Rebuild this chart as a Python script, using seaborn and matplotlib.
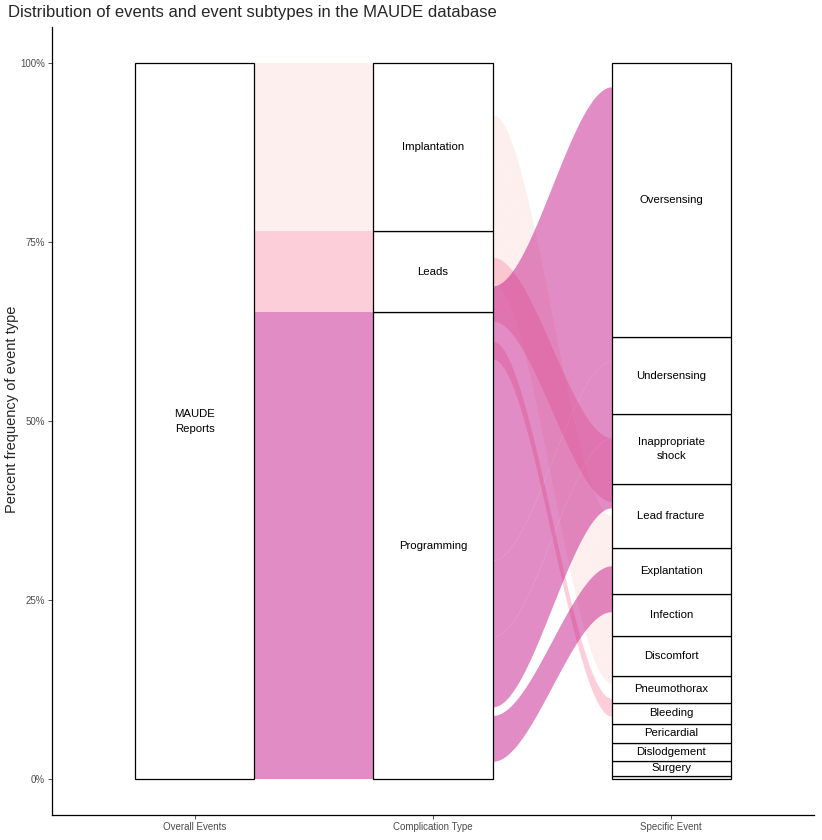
import numpy as np
import pandas as pd
import seaborn as sns
import matplotlib.pyplot as plt
from matplotlib.patches import Rectangle

# axes of the alluvial plot
axis_names = ["Overall Events", "Complication Type", "Specific Event"]

# complication types, bottom to top, RdPu fills
types = ["Programming", "Leads", "Implantation"]
type_colors = ["#C51B8A", "#FA9FB5", "#FDE0DD"]

# specific events, bottom to top (percent of reports)
events = ["Other", "Surgery", "Dislodgement", "Pericardial", "Bleeding", "Pneumothorax",
          "Discomfort", "Infection", "Explantation", "Lead fracture",
          "Inappropriate\nshock", "Undersensing", "Oversensing"]
event_pct = [0.46, 2.1, 2.5, 2.65, 3.0, 3.7, 5.6, 5.9, 6.4, 8.9, 9.8, 10.7, 38.3]
event_type = ["Implantation", "Implantation", "Leads", "Implantation", "Implantation",
              "Implantation", "Implantation", "Implantation", "Programming", "Leads",
              "Programming", "Programming", "Programming"]
event_show = [False] + [True] * 12

# where each flow sits between Complication Type and Specific Event
flow_mid_bottom = [69.4, 69.86, 58.7, 71.96, 74.61, 77.61, 81.31, 86.91, 2.5, 64.0, 10.1, 19.9, 30.6]
flow_end_bottom = [13.4, 13.86, 8.8, 15.96, 18.61, 21.61, 25.31, 30.91, 23.4, 38.8, 37.9, 47.7, 58.4]

df = pd.DataFrame({"event": events, "pct": event_pct, "type": event_type,
                   "show": event_show, "mid": flow_mid_bottom, "end": flow_end_bottom})
color_of = dict(zip(types, type_colors))

sns.set_theme(style="ticks")
plt.rcParams['font.family'] = ['Liberation Sans', 'DejaVu Sans']

fig = plt.figure(figsize=(8.22, 8.4), dpi=100)
ax = fig.add_axes([52 / 822, 25 / 840, (814 - 52) / 822, (815 - 27.4) / 840])

w = 0.5
t = np.linspace(0, 1, 120)
s = 3 * t ** 2 - 2 * t ** 3

# flows from axis 1 to axis 2: stacked by type, then by event order
base = 0.0
for tp in types:
    sub = df[df["type"] == tp]
    for _, r in sub.iterrows():
        ax.fill_between([1 + w / 2, 2 - w / 2], base, base + r["pct"],
                        color=color_of[tp], alpha=0.5, lw=0, zorder=1)
        base += r["pct"]

# flows from axis 2 to axis 3 (light first, dark on top)
for tp in types[::-1]:
    sub = df[df["type"] == tp]
    for _, r in sub.iterrows():
        x = 2 + w / 2 + (1 - w) * t
        lo = r["mid"] + (r["end"] - r["mid"]) * s
        ax.fill_between(x, lo, lo + r["pct"], color=color_of[tp], alpha=0.5, lw=0, zorder=1)

# strata boxes
def stratum(xc, bottom, h, label, show=True):
    ax.add_patch(Rectangle((xc - w / 2, bottom), w, h, facecolor="white",
                           edgecolor="black", lw=0.9, zorder=3))
    if show:
        ax.text(xc, bottom + h / 2, label, ha="center", va="center",
                fontsize=8.2, color="black", zorder=4, linespacing=1.6)

stratum(1, 0, 100, "MAUDE\nReports")
base = 0.0
for tp in types:
    h = df.loc[df["type"] == tp, "pct"].sum()
    stratum(2, base, h, tp)
    base += h
base = 0.0
for _, r in df.iterrows():
    stratum(3, base, r["pct"], r["event"], r["show"])
    base += r["pct"]

ax.set_xlim(0.4, 3.6)
ax.set_ylim(-5, 105)
ax.set_xticks([1, 2, 3])
ax.set_xticklabels(axis_names, fontsize=7, color="#4D4D4D")
ax.set_yticks([0, 25, 50, 75, 100])
ax.set_yticklabels(["0%", "25%", "50%", "75%", "100%"], fontsize=7, color="#4D4D4D")
ax.tick_params(length=3, width=0.6, color="#333333", pad=2)
sns.despine(ax=ax)
for sp in ["left", "bottom"]:
    ax.spines[sp].set_color("black")
    ax.spines[sp].set_linewidth(0.9)
ax.grid(False)

fig.text(8 / 822, 1 - 12 / 840, "Distribution of events and event subtypes in the MAUDE database",
         ha="left", va="center", fontsize=12)
fig.text(12 / 822, 1 - 409 / 840, "Percent frequency of event type",
         ha="center", va="center", rotation=90, fontsize=10.5)

fig.savefig("out.png", dpi=100)
